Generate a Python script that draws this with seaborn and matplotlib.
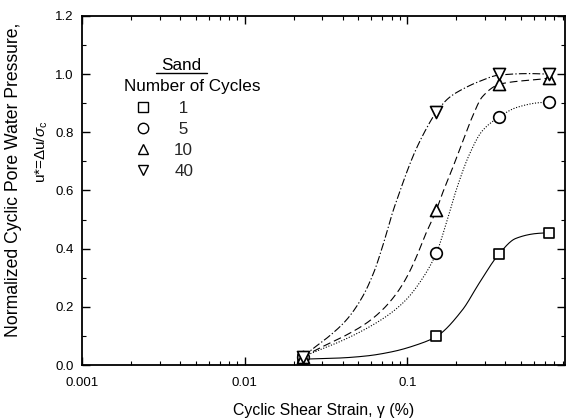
import numpy as np
import pandas as pd
import matplotlib
matplotlib.use("Agg")
import matplotlib.pyplot as plt
import seaborn as sns
from matplotlib.lines import Line2D
from matplotlib.ticker import (LogLocator, MultipleLocator, FixedLocator, NullFormatter,
                               FixedFormatter, FormatStrFormatter)

# ---- data ----
strain = [0.0227, 0.1507, 0.367, 0.743]
u_1 = [0.02, 0.098, 0.383, 0.455]
u_5 = [0.028, 0.385, 0.853, 0.904]
u_10 = [0.028, 0.533, 0.965, 0.987]
u_40 = [0.028, 0.870, 1.0, 1.0]

cycles = ["1", "5", "10", "40"]
legend_labels = [" 1", " 5", "10", "40"]

# fitted curves
curve_x_1 = [0.0227, 0.0262, 0.0383, 0.0558, 0.0812, 0.1136, 0.1507, 0.2175, 0.2766, 0.367, 0.4625, 0.617, 0.743]
curve_y_1 = [0.020, 0.021, 0.024, 0.031, 0.046, 0.069, 0.098, 0.189, 0.282, 0.383, 0.435, 0.452, 0.455]
curve_x_5 = [0.0227, 0.0288, 0.0383, 0.0558, 0.0776, 0.0984, 0.1185, 0.1507, 0.1734, 0.1999, 0.2399, 0.2884, 0.367, 0.466, 0.645, 0.743]
curve_y_5 = [0.028, 0.052, 0.080, 0.125, 0.175, 0.225, 0.282, 0.385, 0.488, 0.603, 0.723, 0.805, 0.853, 0.885, 0.902, 0.904]
curve_x_10 = [0.0227, 0.0288, 0.0399, 0.0560, 0.0703, 0.0857, 0.0986, 0.1136, 0.1271, 0.1507, 0.1641, 0.1888, 0.2175, 0.2505, 0.2884, 0.367, 0.466, 0.645, 0.743]
curve_y_10 = [0.028, 0.058, 0.096, 0.144, 0.190, 0.246, 0.300, 0.372, 0.440, 0.533, 0.590, 0.675, 0.765, 0.853, 0.922, 0.965, 0.975, 0.982, 0.987]
curve_x_40 = [0.0227, 0.0261, 0.0332, 0.0422, 0.0530, 0.0628, 0.0692, 0.0754, 0.0809, 0.0894, 0.0986, 0.1104, 0.1271, 0.1507, 0.1811, 0.2175, 0.2766, 0.367, 0.560, 0.743]
curve_y_40 = [0.028, 0.055, 0.100, 0.155, 0.235, 0.325, 0.395, 0.464, 0.523, 0.593, 0.660, 0.729, 0.800, 0.870, 0.920, 0.948, 0.975, 0.997, 1.002, 1.0]


def pchip(x, y, xn):
    """Monotone cubic (Fritsch-Carlson) rendering of a read curve."""
    x = np.asarray(x, float); y = np.asarray(y, float)
    h = np.diff(x); d = np.diff(y) / h
    n = len(x); m = np.zeros(n)
    for k in range(1, n - 1):
        if d[k - 1] * d[k] > 0:
            w1 = 2 * h[k] + h[k - 1]; w2 = h[k] + 2 * h[k - 1]
            m[k] = (w1 + w2) / (w1 / d[k - 1] + w2 / d[k])
    m[0] = d[0]; m[-1] = d[-1]
    idx = np.clip(np.searchsorted(x, xn) - 1, 0, n - 2)
    t = (xn - x[idx]) / h[idx]
    h00 = 2 * t**3 - 3 * t**2 + 1; h10 = t**3 - 2 * t**2 + t
    h01 = -2 * t**3 + 3 * t**2; h11 = t**3 - t**2
    return h00 * y[idx] + h10 * h[idx] * m[idx] + h01 * y[idx + 1] + h11 * h[idx] * m[idx + 1]


sns.set_theme(style="ticks")
plt.rcParams["font.family"] = ["Liberation Sans", "DejaVu Sans"]
plt.rcParams["mathtext.fontset"] = "custom"
plt.rcParams["mathtext.rm"] = "Liberation Sans"
plt.rcParams["mathtext.it"] = "Liberation Sans:italic"
plt.rcParams["mathtext.sf"] = "Liberation Sans"

fig = plt.figure(figsize=(5.7, 4.18), dpi=100)
ax = fig.add_axes([82 / 570, 1 - 365 / 418, (565 - 82) / 570, (365 - 16) / 418])

styles = {"1": "-", "5": (0, (1, 1.5)), "10": (0, (7, 3.5)), "40": (0, (7, 2, 1.2, 2))}
markers = {"1": "s", "5": "o", "10": "^", "40": "v"}
msize = {"1": 60, "5": 70, "10": 75, "40": 75}
curves = {"1": (curve_x_1, curve_y_1), "5": (curve_x_5, curve_y_5),
          "10": (curve_x_10, curve_y_10), "40": (curve_x_40, curve_y_40)}
points = {"1": u_1, "5": u_5, "10": u_10, "40": u_40}

for c in cycles:
    cx, cy = curves[c]
    lx = np.log10(cx)
    xn = np.linspace(lx[0], lx[-1], 400)
    yn = pchip(lx, cy, xn)
    dfc = pd.DataFrame({"x": 10 ** xn, "y": yn})
    sns.lineplot(data=dfc, x="x", y="y", ax=ax, color="black", lw=0.8,
                 linestyle=styles[c], estimator=None, sort=False, zorder=2)

for c in cycles:
    dfp = pd.DataFrame({"x": strain, "y": points[c]})
    sns.scatterplot(data=dfp, x="x", y="y", ax=ax, marker=markers[c], s=msize[c],
                    facecolor="white", edgecolor="black", linewidth=1.2, zorder=3)

ax.set_xscale("log")
ax.set_xlim(0.001, 0.93)
ax.set_ylim(0, 1.2)
ax.xaxis.set_major_locator(FixedLocator([0.001, 0.01, 0.1]))
ax.xaxis.set_major_formatter(FixedFormatter(["0.001", "0.01", "0.1"]))
ax.xaxis.set_minor_locator(LogLocator(base=10, subs=np.arange(2, 10)))
ax.xaxis.set_minor_formatter(NullFormatter())
ax.yaxis.set_major_locator(MultipleLocator(0.2))
ax.yaxis.set_minor_locator(MultipleLocator(0.1))
ax.yaxis.set_major_formatter(FormatStrFormatter("%.1f"))
ax.tick_params(which="both", direction="in", top=True, right=True, color="black",
               labelsize=9.5, labelcolor="black")
ax.tick_params(which="major", length=5.5, width=1)
ax.tick_params(which="minor", length=3, width=0.8)
ax.tick_params(axis="x", which="major", pad=9)
ax.tick_params(axis="y", which="major", pad=6)
for s in ax.spines.values():
    s.set_linewidth(1.3)
    s.set_color("black")

ax.set_xlabel("Cyclic Shear Strain, \u03b3 (%)", fontsize=11.4, color="black", labelpad=10)
ax.set_ylabel("")
fig.text(14 / 570, 1 - 180 / 418, "Normalized Cyclic Pore Water Pressure,", rotation=90,
         ha="center", va="center", fontsize=12.7, color="black")
fig.text(41 / 570, 1 - 152 / 418, r"u*=$\Delta$u/$\sigma_{\mathrm{c}}$", rotation=90,
         ha="center", va="center", fontsize=11, color="black")

# legend block
fig.text(181 / 570, 1 - 65 / 418, "Sand", ha="center", va="center", fontsize=12.3, color="black")
fig.add_artist(Line2D([156 / 570, 207 / 570], [1 - 73 / 418, 1 - 73 / 418], color="black", lw=1))
fig.text(192 / 570, 1 - 86 / 418, "Number of Cycles", ha="center", va="center", fontsize=12.3,
         color="black")
handles = [Line2D([], [], marker=markers[c], ls="none", markersize=7.5, markerfacecolor="white",
                  markeredgecolor="black", markeredgewidth=1.0, color="black") for c in cycles]
leg = ax.legend(handles, legend_labels, loc="upper left",
                bbox_to_anchor=(134 / 570, 1 - 101 / 418), bbox_transform=fig.transFigure,
                frameon=False, fontsize=12.3, handlelength=1.0, handletextpad=1.35,
                labelspacing=0.36, borderpad=0, borderaxespad=0)

fig.savefig("out.png", dpi=100)
